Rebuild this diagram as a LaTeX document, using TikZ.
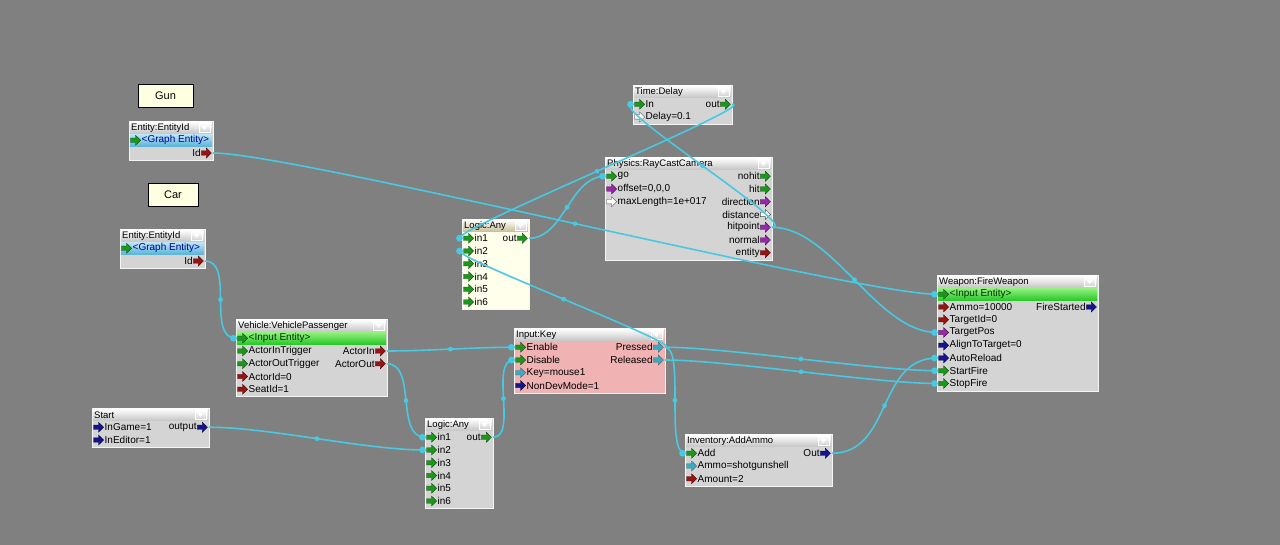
\documentclass[tikz,border=0pt]{standalone}
\usepackage{fontspec}
\setmainfont{Liberation Sans}
\usetikzlibrary{decorations.markings}
\definecolor{bg}{RGB}{128,128,128}
\definecolor{fgbodyc}{RGB}{212,212,212}
\definecolor{wirec}{RGB}{72,200,225}
\definecolor{cgreen}{RGB}{30,150,30}
\definecolor{cred}{RGB}{150,20,20}
\definecolor{cpurple}{RGB}{150,40,170}
\definecolor{cblue}{RGB}{20,20,140}
\definecolor{cteal}{RGB}{60,170,190}
\definecolor{fgpink}{RGB}{240,178,178}
\definecolor{fgivory}{RGB}{255,255,236}
\definecolor{lblivory}{RGB}{255,255,225}
\definecolor{fgtan}{RGB}{200,190,150}
\definecolor{barg1}{RGB}{150,240,130}
\definecolor{barg2}{RGB}{40,200,40}
\definecolor{barc1}{RGB}{190,230,245}
\definecolor{barc2}{RGB}{90,180,215}
\tikzset{
  fgbody/.style={draw=white!92!gray, line width=0.8pt, inner sep=0pt},
  ttl/.style={font=\fontsize{9.5}{11}\selectfont, inner sep=0pt, text=black},
  ptxt/.style={font=\fontsize{10}{12}\selectfont, inner sep=0pt, text=black},
  pg/.style={fill=cgreen, draw=green!25!black, line width=0.3pt},
  pr/.style={fill=cred, draw=red!25!black, line width=0.3pt},
  pp/.style={fill=cpurple, draw=violet!40!black, line width=0.3pt},
  pb/.style={fill=cblue, draw=blue!20!black, line width=0.3pt},
  pt/.style={fill=cteal, draw=cyan!30!black, line width=0.3pt},
  ph/.style={fill=white, draw=gray!60!black, line width=0.4pt},
  lbl/.style={draw=black, fill=lblivory, line width=0.6pt, minimum height=23pt, font=\fontsize{11}{13}\selectfont},
  wire/.style={draw=wirec, line width=1.6pt, postaction={decorate},
    decoration={markings, mark=at position 0.5 with {\fill[wirec] circle (2.4pt);}}}
}
\def\ttlbot{gray!45}
\newcommand\fgbox[7][fgbodyc]{%
  \pgfmathsetmacro\fgh{12.75*#6+13.5}%
  \pgfmathsetmacro\fgr{#3+#5}%
  \node[fgbody, fill=#1, minimum width=#5pt, minimum height=\fgh pt, anchor=north west] (#2) at (#3,#4) {};
  \shade[top color=white, bottom color=\ttlbot] (#3+0.8,#4+0.8) rectangle (\fgr-0.8,#4+12.6);
  \node[ttl, anchor=west] (#2-t) at (#3+2,#4+7) {#7};
  \shade[top color=white, bottom color=gray!35, draw=white] (\fgr-14,#4+2.5) rectangle (\fgr-3,#4+11);
  \fill[white] (\fgr-11.5,#4+5) -- (\fgr-5.5,#4+5) -- (\fgr-8.5,#4+9) -- cycle;
  \xdef\curx{#3}\xdef\cury{#4}\xdef\curr{\fgr}\xdef\curname{#2}%
}
\newcommand\parrow[3]{\path[#3] (#1,#2-2.2) -- ++(5,0) -- ++(0,-2.8) -- ++(5.2,5) -- ++(-5.2,5) -- ++(0,-2.8) -- ++(-5,0) -- cycle;}
\newcommand\inp[4]{%
  \pgfmathsetmacro\ry{\cury+12.75*(#1)+6.5}%
  \coordinate (\curname-#4) at (\curx,\ry);
  \parrow{\curx+1.5}{\ry}{#2}
  \node[ptxt, anchor=west] at (\curx+12.5,\ry) {#3};
}
\newcommand\inpc[5]{%
  \pgfmathsetmacro\ry{\cury+12.75*(#1)+6.5}%
  \coordinate (\curname-#4) at (\curx,\ry);
  \parrow{\curx+1.5}{\ry}{#2}
  \node[ptxt, anchor=west, text=#5] at (\curx+12.5,\ry) {#3};
}
\newcommand\outp[4]{%
  \pgfmathsetmacro\ry{\cury+12.75*(#1)+6.5}%
  \coordinate (\curname-#4) at (\curr,\ry);
  \parrow{\curr-11.7}{\ry}{#2}
  \node[ptxt, anchor=east] at (\curr-12.2,\ry) {#3};
}
\newcommand\rowbar[3]{%
  \pgfmathsetmacro\ry{\cury+12.75*(#1)}%
  \shade[top color=#2, bottom color=#3] (\curx+0.8,\ry+0.3) rectangle (\curr-0.8,\ry+12.6);
}
\newcommand\wire[3]{%
  \draw[wire] (#1) .. controls +(#3,0) and +(-#3,0) .. (#2);
  \fill[wirec] ([xshift=-2.5pt]#2) circle (3.4pt);
}
\begin{document}
\begin{tikzpicture}[x=1pt,y=-1pt]
\useasboundingbox (0,0) rectangle (1280,545);
\fill[bg] (0,0) rectangle (1280,545);

% labels
\node[lbl, minimum width=55pt] (gunlbl) at (165.5,95.5) {Gun};
\node[lbl, minimum width=50pt] (carlbl) at (173,194.5) {Car};

% Entity (Gun)
\fgbox{gun}{129}{121}{84}{2}{Entity:EntityId}
\rowbar{1}{barc1}{barc2}
\inpc{1}{pg}{<Graph Entity>}{ge}{blue!60!black}
\outp{2}{pr}{Id}{id}

% Entity (Car)
\fgbox{car}{120}{229}{85}{2}{Entity:EntityId}
\rowbar{1}{barc1}{barc2}
\inpc{1}{pg}{<Graph Entity>}{ge}{blue!60!black}
\outp{2}{pr}{Id}{id}

% Vehicle
\fgbox{veh}{236}{319}{151}{5}{Vehicle:VehiclePassenger}
\rowbar{1}{barg1}{barg2}
\inpc{1}{pg}{<Input Entity>}{ent}{green!20!black}
\inp{2}{pg}{ActorInTrigger}{ait}
\outp{2}{pr}{ActorIn}{ain}
\inp{3}{pg}{ActorOutTrigger}{aot}
\outp{3}{pr}{ActorOut}{aout}
\inp{4}{pr}{ActorId=0}{aid}
\inp{5}{pr}{SeatId=1}{sid}

% Start
\fgbox{start}{92}{408}{117}{2}{Start}
\inp{1}{pb}{InGame=1}{ig}
\outp{1}{pb}{output}{out}
\inp{2}{pb}{InEditor=1}{ie}

% Logic:Any (bottom)
\fgbox{lab}{425}{418}{68}{6}{Logic:Any}
\inp{1}{pg}{in1}{in1}
\outp{1}{pg}{out}{out}
\inp{2}{pg}{in2}{in2}
\inp{3}{pg}{in3}{in3}
\inp{4}{pg}{in4}{in4}
\inp{5}{pg}{in5}{in5}
\inp{6}{pg}{in6}{in6}

% Logic:Any (top)
\def\ttlbot{fgtan}
\fgbox[fgivory]{lat}{462}{219}{67}{6}{Logic:Any}
\def\ttlbot{gray!45}
\inp{1}{pg}{in1}{in1}
\outp{1}{pg}{out}{out}
\inp{2}{pg}{in2}{in2}
\inp{3}{pg}{in3}{in3}
\inp{4}{pg}{in4}{in4}
\inp{5}{pg}{in5}{in5}
\inp{6}{pg}{in6}{in6}

% Input:Key
\fgbox[fgpink]{key}{514}{328}{151}{4}{Input:Key}
\inp{1}{pg}{Enable}{en}
\outp{1}{pt}{Pressed}{pr}
\inp{2}{pg}{Disable}{dis}
\outp{2}{pt}{Released}{rel}
\inp{3}{pt}{Key=mouse1}{k}
\inp{4}{pb}{NonDevMode=1}{ndm}

% Time:Delay
\fgbox{td}{633}{85}{99}{2}{Time:Delay}
\inp{1}{pg}{In}{in}
\outp{1}{pg}{out}{out}
\inp{2}{ph}{Delay=0.1}{d}

% Physics:RayCastCamera
\fgbox{rc}{605}{157}{167}{7}{Physics:RayCastCamera}
\inp{1}{pg}{go}{go}
\outp{1}{pg}{nohit}{nohit}
\inp{2}{pp}{offset=0,0,0}{off}
\outp{2}{pg}{hit}{hit}
\inp{3}{ph}{maxLength=1e+017}{ml}
\outp{3}{pp}{direction}{dir}
\outp{4}{ph}{distance}{dist}
\outp{5}{pp}{hitpoint}{hp}
\outp{6}{pp}{normal}{nrm}
\outp{7}{pr}{entity}{ent}

% Inventory:AddAmmo
\fgbox{aa}{685}{434}{147}{3}{Inventory:AddAmmo}
\inp{1}{pg}{Add}{add}
\outp{1}{pb}{Out}{out}
\inp{2}{pt}{Ammo=shotgunshell}{am}
\inp{3}{pr}{Amount=2}{amt}

% Weapon:FireWeapon
\fgbox{wpn}{937}{275}{161}{8}{Weapon:FireWeapon}
\rowbar{1}{barg1}{barg2}
\inpc{1}{pg}{<Input Entity>}{ent}{green!20!black}
\inp{2}{pr}{Ammo=10000}{ammo}
\outp{2}{pb}{FireStarted}{fs}
\inp{3}{pr}{TargetId=0}{tid}
\inp{4}{pp}{TargetPos}{tpos}
\inp{5}{pb}{AlignToTarget=0}{att}
\inp{6}{pb}{AutoReload}{auto}
\inp{7}{pg}{StartFire}{start}
\inp{8}{pg}{StopFire}{stop}

% connectors
\wire{gun-id}{wpn-ent}{80}
\wire{car-id}{veh-ent}{30}
\wire{veh-ain}{key-en}{40}
\wire{veh-aout}{lab-in1}{30}
\wire{start-out}{lab-in2}{60}
\wire{lab-out}{key-dis}{25}
\wire{key-pr}{lat-in2}{25}
\wire{key-pr}{wpn-start}{60}
\wire{key-rel}{wpn-stop}{60}
\wire{key-pr}{aa-add}{20}
\wire{aa-out}{wpn-auto}{60}
\wire{lat-out}{rc-go}{35}
\wire{td-out}{lat-in1}{30}
\wire{rc-hp}{td-in}{30}
\wire{rc-hp}{wpn-tpos}{60}
\end{tikzpicture}
\end{document}
